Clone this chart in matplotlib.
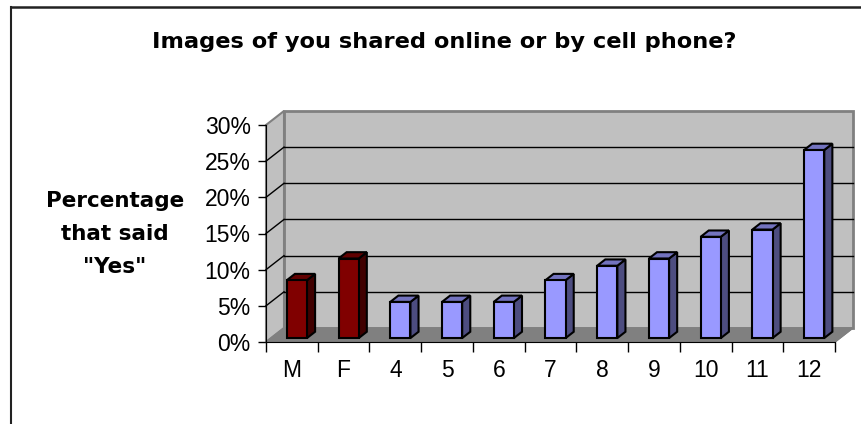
import matplotlib
matplotlib.use('Agg')
import matplotlib.pyplot as plt
from matplotlib.patches import Polygon
from matplotlib.lines import Line2D

# Chart data
categories = ['M', 'F', '4', '5', '6', '7', '8', '9', '10', '11', '12']
values = [8, 11, 5, 5, 5, 8, 10, 11, 14, 15, 26]
gender_flags = [True, True, False, False, False, False, False, False, False, False, False]
y_ticks = [0, 5, 10, 15, 20, 25, 30]
y_tick_labels = ['0%', '5%', '10%', '15%', '20%', '25%', '30%']

plt.rcParams['font.family'] = ['Liberation Sans', 'DejaVu Sans']

fig = plt.figure(figsize=(8.61, 4.24), dpi=100)
ax = fig.add_axes([266 / 861, 82 / 424, 569 / 861, 217 / 424])
n = len(categories)
ax.set_xlim(0, n)
ax.set_ylim(0, 30)

# depth offset of the 3d box (data units)
dx, dy = 0.348, 1.94
wall_col = '#C0C0C0'
floor_col = '#808080'

# back wall, side wall, floor
ax.add_patch(Polygon([(dx, dy), (n + dx, dy), (n + dx, 30 + dy), (dx, 30 + dy)],
                     closed=True, facecolor=wall_col, edgecolor='#808080', lw=2, clip_on=False, zorder=1))
ax.add_patch(Polygon([(0, 0), (dx, dy), (dx, 30 + dy), (0, 30)],
                     closed=True, facecolor=wall_col, edgecolor='#808080', lw=1.5, clip_on=False, zorder=1))
ax.add_patch(Polygon([(0, 0), (n, 0), (n + dx, dy), (dx, dy)],
                     closed=True, facecolor=floor_col, edgecolor='#808080', lw=1, clip_on=False, zorder=2))

# gridlines on walls
for t in y_ticks[1:-1]:
    ax.plot([dx, n + dx], [t + dy, t + dy], color='black', lw=1, clip_on=False, zorder=2)
    ax.plot([0, dx], [t, t + dy], color='black', lw=1, clip_on=False, zorder=2)

# 3d bars
w = 0.39
f0 = 0.28
fd = 0.45
for i, (v, g) in enumerate(zip(values, gender_flags)):
    if g:
        front, side, top = '#800000', '#400000', '#600000'
    else:
        front, side, top = '#9999FF', '#4D4D80', '#7373BF'
    x0 = i + 0.5 - w / 2 + f0 * dx
    y0 = f0 * dy
    y1 = v + f0 * dy
    ddx, ddy = fd * dx, fd * dy
    ax.add_patch(Polygon([(x0 + w, y0), (x0 + w + ddx, y0 + ddy), (x0 + w + ddx, y1 + ddy), (x0 + w, y1)],
                         closed=True, facecolor=side, edgecolor='black', lw=1.5, clip_on=False, zorder=3))
    ax.add_patch(Polygon([(x0, y1), (x0 + w, y1), (x0 + w + ddx, y1 + ddy), (x0 + ddx, y1 + ddy)],
                         closed=True, facecolor=top, edgecolor='black', lw=1.5, clip_on=False, zorder=3))
    ax.add_patch(Polygon([(x0, y0), (x0 + w, y0), (x0 + w, y1), (x0, y1)],
                         closed=True, facecolor=front, edgecolor='black', lw=1.5, clip_on=False, zorder=4))

# axes styling
ax.set_facecolor('none')
for s in ['top', 'right']:
    ax.spines[s].set_visible(False)
ax.spines['left'].set_color('black')
ax.spines['bottom'].set_color('black')
ax.spines['left'].set_zorder(5)
ax.spines['bottom'].set_zorder(5)
ax.set_yticks(y_ticks)
ax.set_yticklabels(y_tick_labels, fontsize=16.5)
ax.tick_params(axis='y', length=6, width=1, pad=5)
ax.set_xticks([i + 0.5 for i in range(n)])
ax.set_xticklabels(categories, fontsize=16.5)
ax.set_xticks(range(n + 1), minor=True)
ax.tick_params(axis='x', which='major', length=0, pad=12.5)
ax.tick_params(axis='x', which='minor', length=7, width=1)
# floor edge on the right
ax.plot([n, n + dx], [0, dy], color='#808080', lw=1, clip_on=False, zorder=2)

fig.text(444 / 861, 1 - 48 / 424, 'Images of you shared online or by cell phone?',
         ha='center', va='baseline', fontsize=16.2, fontweight='bold', family='DejaVu Sans')
fig.text(115 / 861, 1 - 234 / 424, 'Percentage\nthat said\n"Yes"',
         ha='center', va='center', multialignment='center', fontsize=15.5, fontweight='bold',
         linespacing=1.8, family='DejaVu Sans')

# outer frame (top and left)
fig.add_artist(Line2D([11 / 861, 11 / 861], [0, 1 - 6.5 / 424], color='#222222', lw=1.5))
fig.add_artist(Line2D([11 / 861, 1], [1 - 6.5 / 424, 1 - 6.5 / 424], color='#222222', lw=1.8))

fig.savefig('out.png', dpi=100)
